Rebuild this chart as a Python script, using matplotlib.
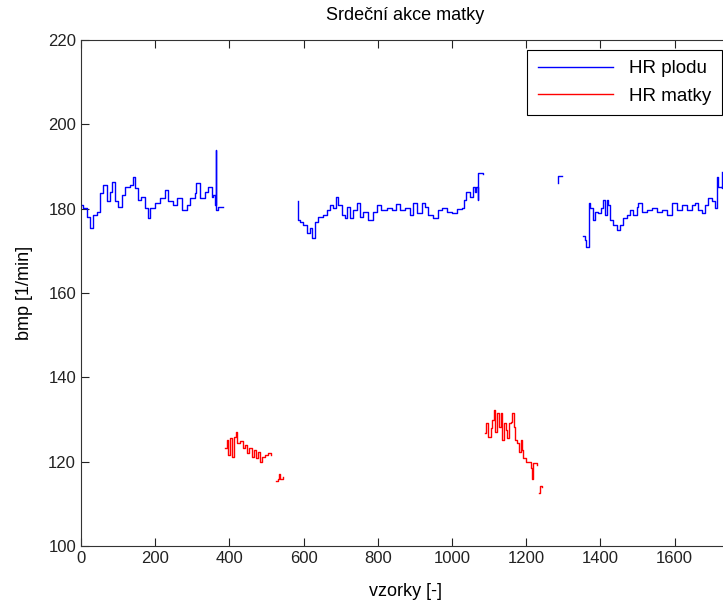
# Srdecni akce matky - HR plodu / HR matky
import numpy as np
import matplotlib.pyplot as plt

# HR plodu (blue), three runs + one small piece
plod1_x = [2, 6, 15, 24, 33, 42, 51, 60, 69, 78, 84, 92, 101, 110, 118, 132, 141, 145,
           154, 163, 172, 180, 186, 199, 213, 226, 235, 249, 258, 271, 285, 294, 307,
           311, 320, 334, 343, 352, 356, 361, 364, 365, 368, 375, 383]
plod1_y = [180.9, 180.1, 178.1, 175.3, 178.5, 179.3, 183.6, 185.6, 181.7, 184.0, 186.4,
           181.7, 180.5, 183.2, 185.2, 185.6, 187.6, 184.8, 182.1, 182.8, 180.1, 177.7,
           180.1, 181.3, 182.5, 184.4, 181.7, 180.9, 182.5, 179.7, 180.9, 182.5, 183.6,
           186.0, 182.5, 184.0, 185.2, 182.8, 183.2, 180.9, 194.0, 179.7, 180.5, 180.5, 180.5]

plod2_x = [584, 586, 590, 599, 608, 617, 624, 631, 640, 653, 662, 671, 680, 687, 694,
           703, 712, 718, 725, 734, 743, 752, 761, 774, 788, 799, 810, 824, 837, 849,
           860, 873, 887, 894, 905, 918, 927, 936, 950, 963, 972, 986, 999, 1013, 1026,
           1032, 1039, 1048, 1056, 1062, 1066, 1069, 1071, 1083]
plod2_y = [181.7, 177.3, 176.9, 176.1, 174.2, 175.3, 173.0, 176.9, 178.1, 178.5, 179.7,
           180.9, 180.1, 182.8, 180.9, 178.5, 177.7, 180.5, 177.7, 179.7, 181.3, 178.1,
           179.3, 177.3, 179.3, 180.9, 179.7, 180.1, 179.7, 181.1, 179.7, 180.1, 178.5,
           181.3, 178.9, 181.3, 180.5, 178.5, 177.7, 179.7, 180.1, 179.3, 178.9, 179.9,
           180.1, 182.1, 184.0, 182.8, 185.2, 184.0, 185.2, 182.1, 188.4, 188.2]

plod3_x = [1285, 1287, 1296]
plod3_y = [186.0, 187.8, 187.8]

plod4_x = [1354, 1358, 1362, 1367, 1368, 1372, 1379, 1385, 1394, 1401, 1408, 1412, 1417,
           1421, 1426, 1435, 1444, 1453, 1462, 1471, 1480, 1489, 1498, 1502, 1511, 1525,
           1538, 1552, 1565, 1579, 1592, 1606, 1619, 1633, 1646, 1655, 1664, 1673, 1682,
           1691, 1700, 1709, 1713, 1718, 1727, 1729]
plod4_y = [173.5, 172.5, 171.0, 171.0, 181.3, 180.1, 177.3, 179.3, 178.9, 180.1, 182.1,
           178.5, 182.1, 180.9, 177.3, 176.1, 174.9, 176.1, 177.7, 178.5, 179.7, 178.5,
           180.5, 181.3, 179.3, 179.7, 180.1, 179.3, 179.7, 178.5, 181.3, 179.7, 180.9,
           179.7, 180.9, 181.3, 179.7, 178.9, 180.9, 182.5, 181.7, 180.1, 187.6, 185.2,
           184.8, 188.8]

# HR matky (red)
matka1_x = [388, 393, 397, 403, 408, 412, 418, 421, 429, 436, 442, 447, 454, 460, 466,
            472, 478, 482, 487, 496, 505, 511]
matka1_y = [123.2, 125.1, 121.6, 125.5, 121.2, 125.9, 127.1, 124.4, 124.8, 123.2, 124.0,
            122.0, 123.2, 121.2, 122.8, 120.8, 122.4, 120.0, 121.2, 121.6, 122.0, 121.6]

matka2_x = [525, 530, 533, 537, 545]
matka2_y = [115.3, 115.9, 117.0, 116.0, 116.3]

matka3_x = [1089, 1093, 1098, 1104, 1109, 1113, 1117, 1122, 1127, 1131, 1135, 1140, 1146,
            1149, 1155, 1158, 1162, 1167, 1171, 1176, 1180, 1185, 1189, 1192, 1199, 1208,
            1213, 1216, 1219, 1228]
matka3_y = [126.7, 129.1, 125.9, 127.9, 129.9, 132.3, 127.1, 131.5, 128.3, 131.5, 125.1,
            129.1, 127.5, 125.5, 129.1, 129.5, 131.5, 128.3, 125.1, 124.4, 122.4, 125.1,
            122.8, 120.8, 120.0, 120.0, 118.4, 115.8, 119.6, 119.2]

matka4_x = [1235, 1236, 1242]
matka4_y = [112.6, 114.3, 113.9]


def join(parts):
    # glue runs together with NaN so the line breaks between them
    xs, ys = [], []
    for px, py in parts:
        xs += list(px) + [np.nan]
        ys += list(py) + [np.nan]
    return np.array(xs), np.array(ys)


plod_x, plod_y = join([(plod1_x, plod1_y), (plod2_x, plod2_y),
                       (plod3_x, plod3_y), (plod4_x, plod4_y)])
matka_x, matka_y = join([(matka1_x, matka1_y), (matka2_x, matka2_y),
                         (matka3_x, matka3_y), (matka4_x, matka4_y)])

plt.rcParams['font.family'] = ['Liberation Sans', 'DejaVu Sans']

fig = plt.figure(figsize=(7.23, 6.05), dpi=100)
# axes run a bit past the right border, like the cut-off original
ax = fig.add_axes([0.112, 0.0975, 0.898, 0.8365])

ax.plot(plod_x, plod_y, color='#0000ff', lw=1.0, drawstyle='steps-post', label='HR plodu')
ax.plot(matka_x, matka_y, color='#ff0000', lw=1.0, drawstyle='steps-post', label='HR matky')

ax.set_xlim(0, 1750)
ax.set_ylim(100, 220)
ax.set_xticks(np.arange(0, 1601, 200))
ax.set_yticks(np.arange(100, 221, 20))
ax.tick_params(direction='in', top=True, right=False, length=6, labelsize=12,
               width=0.8, colors='#222222')
for s in ax.spines.values():
    s.set_linewidth(0.8)
    s.set_color('#333333')

ax.set_title('Srdeční akce matky', fontsize=13, pad=14)
ax.set_xlabel('vzorky [-]', fontsize=13, labelpad=12)
ax.set_ylabel('bmp [1/min]', fontsize=13, labelpad=11)

leg = ax.legend(loc='upper right', bbox_to_anchor=(722 / 723, 1 - 50 / 605),
                bbox_transform=fig.transFigure, borderaxespad=0,
                fontsize=13.5, fancybox=False, framealpha=1,
                edgecolor='black', handlelength=4.0, labelspacing=0.55,
                borderpad=0.55, handletextpad=0.9)
leg.get_frame().set_linewidth(0.8)

fig.savefig('out.png', dpi=100)
